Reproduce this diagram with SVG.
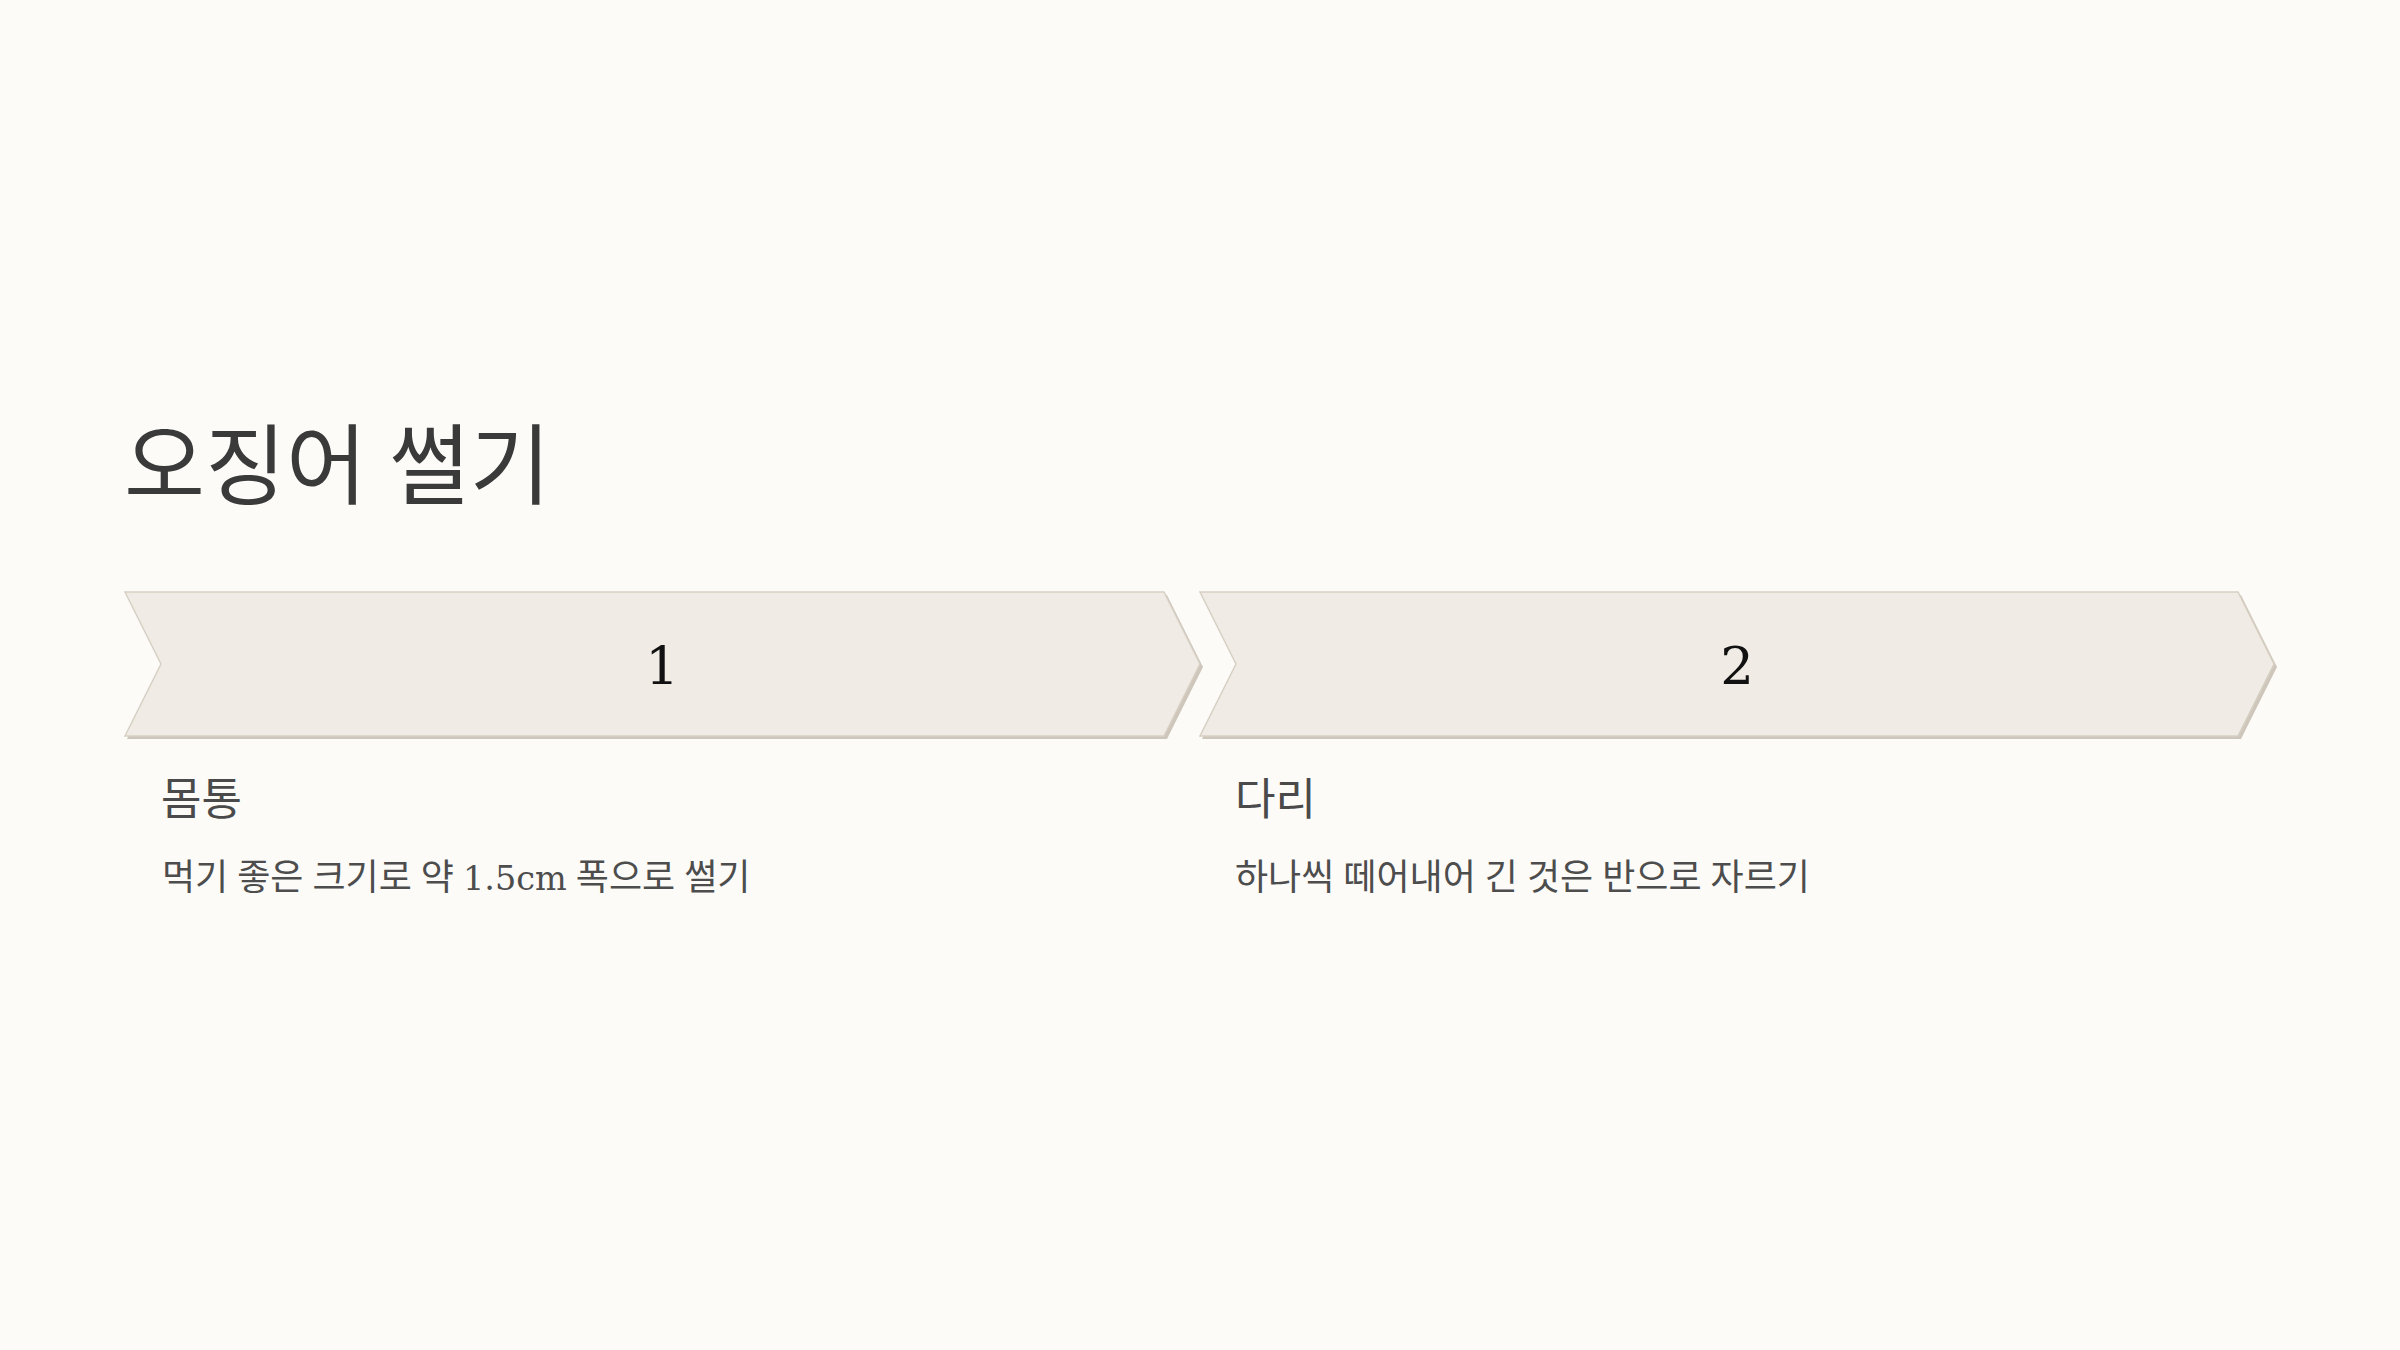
<svg xmlns="http://www.w3.org/2000/svg" width="2400" height="1350" viewBox="0 0 2400 1350">
  <style>
    .bg { fill: #fcfbf8; }
    .shadow { fill: #cec6ba; }
    .chev { fill: #f0ece5; stroke: #d6cfc4; stroke-width: 1.5; stroke-linejoin: miter; }
    .title { font-family: "Liberation Serif", "Noto Sans CJK KR", sans-serif; font-size: 88px; fill: #3a3a3a; }
    .num { font-family: "DejaVu Serif", serif; font-size: 53px; fill: #111111; text-anchor: middle; }
    .head { font-family: "Liberation Serif", "Noto Sans CJK KR", sans-serif; font-size: 44px; fill: #4a4a4a; }
    .desc { font-family: "Liberation Serif", "Noto Sans CJK KR", sans-serif; font-size: 36px; fill: #4d4d4d; }
    .lat { font-family: "DejaVu Serif", serif; font-size: 33.5px; }
  </style>
  <rect class="bg" x="0" y="0" width="2400" height="1350"/>

  <g id="title">
    <text class="title" x="124" y="497">오징어 썰기</text>
  </g>

  <g id="step1">
    <polygon class="shadow" points="127,595 1167,595 1203,667 1167,739 127,739 163,667"/>
    <polygon class="chev" points="125,592 1164,592 1200,664 1164,736 125,736 161,664"/>
    <text class="num" x="662" y="684">1</text>
    <text class="head" x="161" y="815">몸통</text>
    <text class="desc" x="162" y="890">먹기 좋은 크기로 약 <tspan class="lat">1.5cm</tspan> 폭으로 썰기</text>
  </g>

  <g id="step2">
    <polygon class="shadow" points="1202,595 2241,595 2277,667 2241,739 1202,739 1238,667"/>
    <polygon class="chev" points="1200,592 2238,592 2274,664 2238,736 1200,736 1236,664"/>
    <text class="num" x="1737" y="684">2</text>
    <text class="head" x="1235" y="815">다리</text>
    <text class="desc" x="1235" y="890">하나씩 떼어내어 긴 것은 반으로 자르기</text>
  </g>

  <g id="connectors"></g>
</svg>
